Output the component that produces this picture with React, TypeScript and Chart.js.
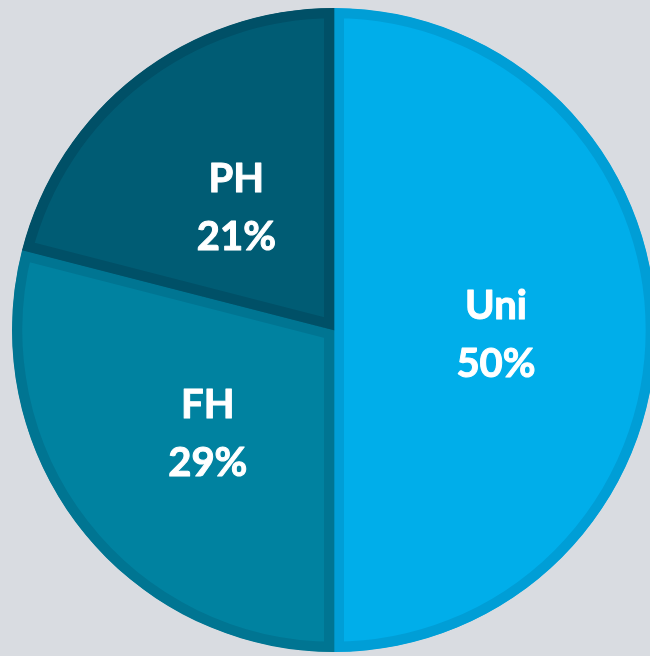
import React, { useEffect, useRef } from "react";
import { Chart, registerables } from "chart.js";

Chart.register(...registerables);

const categories = ["Uni", "FH", "PH"];
const shares = [50, 29, 21];
const fillColors = ["rgb(0,174,234)", "rgb(0,130,160)", "rgb(0,92,116)"];
const edgeColors = ["rgb(0,158,214)", "rgb(0,117,146)", "rgb(0,80,103)"];

const labelPlugin = {
  id: "sliceLabels",
  afterDatasetsDraw(chart: any) {
    const ctx = chart.ctx;
    const meta = chart.getDatasetMeta(0);
    ctx.save();
    ctx.fillStyle = "#ffffff";
    ctx.strokeStyle = "#ffffff";
    ctx.lineWidth = 1;
    ctx.lineJoin = "round";
    ctx.font = "bold 40px Lato, 'Open Sans', sans-serif";
    ctx.textAlign = "center";
    ctx.textBaseline = "alphabetic";
    meta.data.forEach((arc: any, i: number) => {
      const p = arc.tooltipPosition();
      const lines = [categories[i], shares[i] + "%"];
      const ys = [p.y - 11, p.y + 47];
      lines.forEach((t, k) => {
        ctx.fillText(t, p.x + 1, ys[k]);
        ctx.strokeText(t, p.x + 1, ys[k]);
      });
    });
    ctx.restore();
  },
};

export default function App() {
  const ref = useRef<HTMLCanvasElement | null>(null);
  useEffect(() => {
    document.body.style.margin = "0";
    document.body.style.background = "#d9dce1";
    const chart = new Chart(ref.current as HTMLCanvasElement, {
      type: "pie",
      data: {
        labels: categories,
        datasets: [
          {
            data: shares,
            backgroundColor: fillColors,
            borderColor: edgeColors,
            borderWidth: 10,
            borderAlign: "inner",
            clip: false,
          } as any,
        ],
      },
      options: {
        animation: false,
        responsive: false,
        radius: 322,
        layout: { padding: { left: 18, top: 4, right: 0, bottom: 0 } },
        plugins: {
          legend: { display: false },
          tooltip: { enabled: false },
        },
      } as any,
      plugins: [labelPlugin],
    });
    return () => chart.destroy();
  }, []);
  return (
    <div
      style={{
        position: "fixed",
        left: 0,
        top: 0,
        width: 650,
        height: 656,
        overflow: "hidden",
        background: "#d9dce1",
      }}
    >
      <canvas ref={ref} width={650} height={656} style={{ display: "block" }} />
    </div>
  );
}
